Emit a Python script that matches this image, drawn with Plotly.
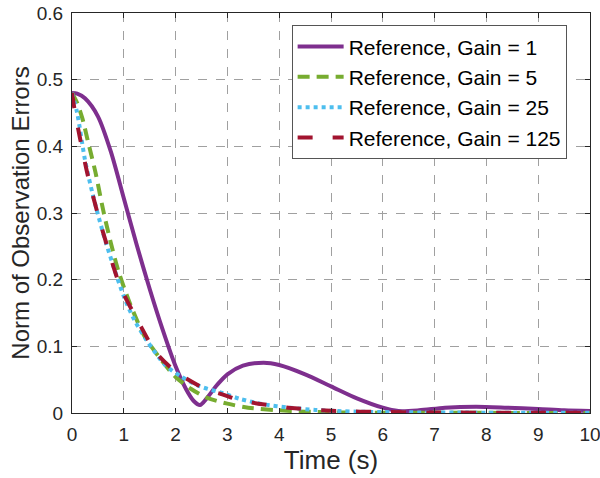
import plotly.graph_objects as go

# Gain = 1
t_g1 = [0, 0.1, 0.25, 0.5, 0.75, 1.0, 1.25, 1.5, 1.75, 2.0, 2.2, 2.35, 2.47, 2.6, 2.8, 3.0, 3.3,
        3.7, 4.0, 4.5, 5.0, 5.5, 6.0, 6.3, 6.7, 7.2, 7.8, 8.4, 9.0, 9.5, 10]
v_g1 = [0.48, 0.479, 0.472, 0.445, 0.392, 0.322, 0.252, 0.186, 0.125, 0.07, 0.036, 0.018, 0.012,
        0.022, 0.042, 0.058, 0.071, 0.0755, 0.072, 0.058, 0.040, 0.022, 0.008, 0.003, 0.004,
        0.008, 0.0095, 0.008, 0.006, 0.004, 0.003]

# Gain = 5
t_g5 = [0, 0.1, 0.2, 0.3, 0.45, 0.6, 0.75, 0.9, 1.1, 1.4, 1.7, 2.0, 2.3, 2.6, 3.0, 3.4, 4.0,
        4.5, 5.0, 6.0, 7.0, 8.0, 9.0, 10]
v_g5 = [0.48, 0.465, 0.442, 0.41, 0.362, 0.305, 0.255, 0.212, 0.168, 0.115, 0.082, 0.054, 0.036,
        0.023, 0.014, 0.008, 0.004, 0.002, 0.001, 0.0005, 0.0003, 0.0002, 0.0001, 0.0001]

# Gain = 25
t_g25 = [0, 0.1, 0.25, 0.4, 0.6, 0.8, 1.0, 1.2, 1.45, 1.8, 2.1, 2.47, 2.9, 3.25, 3.7, 4.2, 4.7,
         5.5, 6.5, 8.0, 10]
v_g25 = [0.48, 0.45, 0.38, 0.328, 0.27, 0.22, 0.175, 0.14, 0.108, 0.072, 0.055, 0.04, 0.03,
         0.021, 0.013, 0.008, 0.0045, 0.002, 0.001, 0.0005, 0.0002]

# Gain = 125
t_g125 = [0, 0.05, 0.15, 0.3, 0.5, 0.7, 0.93, 1.28, 1.63, 2.0, 2.2, 2.6, 2.9, 3.2, 3.6, 4.3,
          5.1, 6.0, 7.0, 8.5, 10]
v_g125 = [0.48, 0.455, 0.414, 0.358, 0.298, 0.245, 0.19, 0.137, 0.09, 0.062, 0.052, 0.035, 0.028,
          0.02, 0.014, 0.007, 0.003, 0.0015, 0.0008, 0.0004, 0.0002]

names = ["Reference, Gain = 1", "Reference, Gain = 5", "Reference, Gain = 25", "Reference, Gain = 125"]
colors = ["#7E2F8E", "#77AC30", "#4DBEEE", "#A2142F"]
dashes = ["solid", "12px,7px", "4px,4px", "15px,20px"]

x_ticks = list(range(0, 11))
y_ticks = [0, 0.1, 0.2, 0.3, 0.4, 0.5, 0.6]
y_tick_labels = ["0", "0.1", "0.2", "0.3", "0.4", "0.5", "0.6"]

fig = go.Figure()
for t, v, n, c, d in zip([t_g1, t_g5, t_g25, t_g125], [v_g1, v_g5, v_g25, v_g125], names, colors, dashes):
    fig.add_trace(go.Scatter(x=t, y=v, name=n, mode="lines",
                             line=dict(color=c, width=4, dash=d, shape="spline", smoothing=0.8)))

font = "Arial, 'Liberation Sans', sans-serif"
axis_common = dict(showline=True, linecolor="#262626", linewidth=1, mirror="ticks",
                   ticks="inside", ticklen=5, tickcolor="#262626", automargin=False,
                   ticklabeloverflow="allow",
                   showgrid=True, gridcolor="#a0a0a0", griddash="dash", gridwidth=1,
                   zeroline=False, tickfont=dict(size=19, color="#262626", family=font))

fig.update_xaxes(range=[0, 10], tickvals=x_ticks, ticklabelstandoff=4,
                 title=dict(text="Time (s)", font=dict(size=26, color="#262626", family=font), standoff=6),
                 **axis_common)
fig.update_yaxes(range=[0, 0.6], tickvals=y_ticks, ticktext=y_tick_labels, ticklabelstandoff=4,
                 title=dict(text="Norm of Observation Errors", font=dict(size=24, color="#262626", family=font), standoff=0),
                 **axis_common)

fig.update_layout(
    width=600, height=478,
    margin=dict(l=72, r=10, t=13, b=65),
    plot_bgcolor="white", paper_bgcolor="white",
    font=dict(family=font, color="#262626"),
    legend=dict(x=0.424, y=0.969, xanchor="left", yanchor="top",
                bgcolor="white", bordercolor="#555555", borderwidth=1,
                font=dict(size=21, color="black", family=font),
                itemwidth=46, tracegroupgap=0),
)

fig.write_html("out.html")
